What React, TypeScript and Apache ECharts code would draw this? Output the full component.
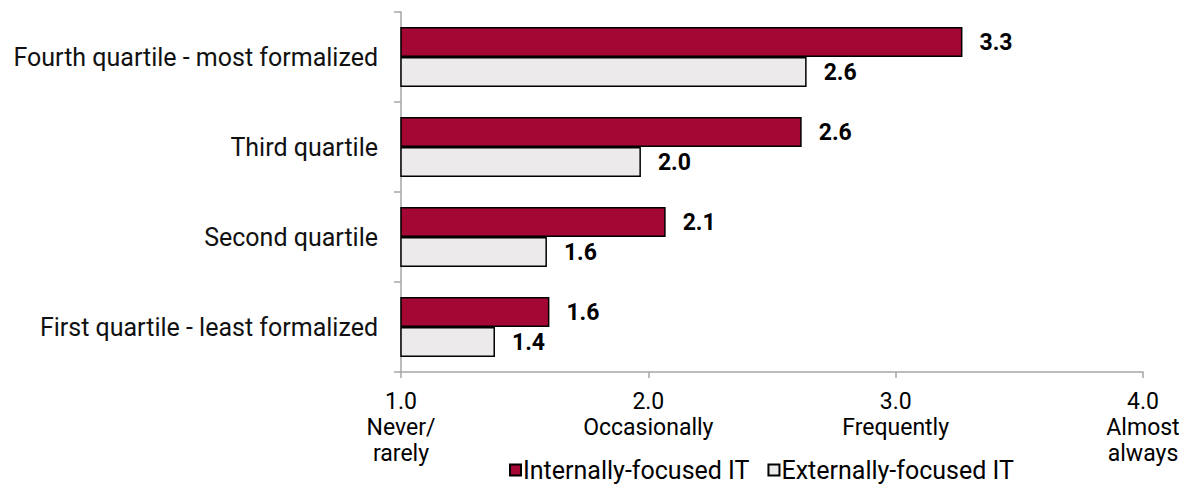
import React, { useEffect, useRef } from "react";
import * as echarts from "echarts";

const categories = [
  "First quartile - least formalized",
  "Second quartile",
  "Third quartile",
  "Fourth quartile - most formalized",
];
const internallyFocused = [1.6, 2.07, 2.62, 3.27];
const externallyFocused = [1.38, 1.59, 1.97, 2.64];
const tickValues = [1, 2, 3, 4];
const tickLabels = ["1.0\nNever/\nrarely", "2.0\nOccasionally", "3.0\nFrequently", "4.0\nAlmost\nalways"];
const seriesNames = ["Internally-focused IT", "Externally-focused IT"];

const FONT = "Roboto, 'Noto Sans', sans-serif";

export default function App() {
  const ref = useRef<HTMLDivElement>(null);
  useEffect(() => {
    if (!ref.current) return;
    const chart = echarts.init(ref.current, undefined, { renderer: "svg" });
    const labelCfg = {
      show: true,
      position: "right",
      distance: 17,
      fontFamily: FONT,
      fontSize: 23,
      fontWeight: "bold",
      color: "#000",
      formatter: (p: any) => Number(p.value).toFixed(1),
    };
    chart.setOption({
      animation: false,
      textStyle: { fontFamily: FONT },
      grid: { left: 401, right: 45, top: 12, bottom: 115, containLabel: false },
      legend: {
        data: seriesNames,
        left: 509,
        top: 457,
        icon: "rect",
        itemWidth: 11,
        itemHeight: 11,
        itemGap: 18,
        padding: 0,
        textStyle: { fontFamily: FONT, fontSize: 25, lineHeight: 26, color: "#000", padding: [0, 0, 0, -3] },
      },
      xAxis: {
        type: "value",
        min: 1,
        max: 4,
        interval: 1,
        splitLine: { show: false },
        axisLine: { show: true, lineStyle: { color: "#A6A6A6", width: 1.5 } },
        axisTick: { show: true, length: 6, lineStyle: { color: "#A6A6A6", width: 1.5 } },
        axisLabel: {
          fontFamily: FONT,
          fontSize: 23,
          color: "#000",
          lineHeight: 26,
          margin: 16,
          formatter: (v: number) => {
            const i = tickValues.indexOf(v);
            return i >= 0 ? tickLabels[i] : "";
          },
        },
      },
      yAxis: {
        type: "category",
        data: categories,
        axisLine: { show: true, lineStyle: { color: "#A6A6A6", width: 1.5 } },
        axisTick: { show: true, length: 7, lineStyle: { color: "#A6A6A6", width: 1.5 } },
        axisLabel: { fontFamily: FONT, fontSize: 25, color: "#111", margin: 23 },
      },
      series: [
        {
          name: seriesNames[0],
          type: "bar",
          data: internallyFocused,
          barWidth: 30,
          barGap: "0%",
          itemStyle: { color: "#A50734", borderColor: "#000", borderWidth: 1.5 },
          label: labelCfg,
        },
        {
          name: seriesNames[1],
          type: "bar",
          data: externallyFocused,
          barWidth: 30,
          barGap: "0%",
          itemStyle: { color: "#ECEAEB", borderColor: "#000", borderWidth: 1.5 },
          label: labelCfg,
        },
      ],
    });
    return () => chart.dispose();
  }, []);
  return <div ref={ref} style={{ width: 1188, height: 487, position: "absolute", left: 0, top: 0 }} />;
}
